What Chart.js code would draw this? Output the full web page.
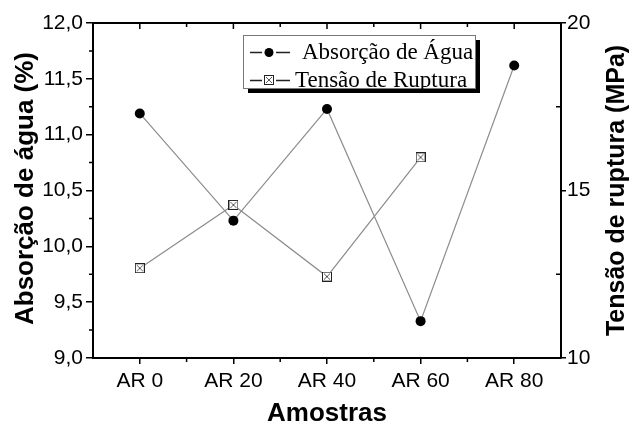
<!DOCTYPE html>
<html>
<head>
<meta charset="utf-8">
<script src="https://cdn.jsdelivr.net/npm/chart.js@4.4.0/dist/chart.umd.min.js"></script>
<style>
  html, body { margin: 0; padding: 0; background: #fff; }
  #wrap { width: 633px; height: 429px; }
</style>
</head>
<body>
<div id="wrap"><canvas id="mycanvas" width="633" height="429"></canvas></div>
<script>
var amostras = ['AR 0', 'AR 20', 'AR 40', 'AR 60', 'AR 80'];
var absorcao = [11.19, 10.23, 11.23, 9.33, 11.62];
var tensao = [12.68, 14.57, 12.43, 15.99, null];
var ticksAbsorcao = [9.0, 9.5, 10.0, 10.5, 11.0, 11.5, 12.0];
var ticksTensao = [10, 15, 20];

var sans = '"Liberation Sans", Arial, sans-serif';
var serif = '"Liberation Serif", "Times New Roman", serif';

// little square with a cross, like the Origin marker
function squareX(size) {
	var c = document.createElement('canvas');
	c.width = size; c.height = size;
	var g = c.getContext('2d');
	g.fillStyle = '#fff';
	g.fillRect(0.5, 0.5, size - 1, size - 1);
	g.strokeStyle = '#222';
	g.lineWidth = 1;
	g.strokeRect(0.5, 0.5, size - 1, size - 1);
	g.strokeStyle = '#555';
	g.beginPath();
	g.moveTo(2, 2); g.lineTo(size - 2, size - 2);
	g.moveTo(size - 2, 2); g.lineTo(2, size - 2);
	g.stroke();
	return c;
}
var sq = squareX(10);

var extras = {
	id: 'extras',
	afterDraw: function(chart) {
		var ctx = chart.ctx;
		var a = chart.chartArea;
		var x = chart.scales.x, y = chart.scales.y, y1 = chart.scales.y1;
		ctx.save();
		ctx.strokeStyle = '#000';
		ctx.lineWidth = 2;
		// top frame line
		ctx.beginPath();
		ctx.moveTo(a.left - 1, a.top);
		ctx.lineTo(a.right + 1, a.top);
		ctx.stroke();

		ctx.lineWidth = 1.5;
		ctx.beginPath();
		// left minor ticks
		for (var i = 0; i < ticksAbsorcao.length - 1; i++) {
			var v = (ticksAbsorcao[i] + ticksAbsorcao[i + 1]) / 2;
			var py = y.getPixelForValue(v);
			ctx.moveTo(a.left, py); ctx.lineTo(a.left - 4, py);
		}
		// right minor ticks (inside)
		for (var j = 0; j < ticksTensao.length - 1; j++) {
			var v2 = (ticksTensao[j] + ticksTensao[j + 1]) / 2;
			var py2 = y1.getPixelForValue(v2);
			ctx.moveTo(a.right, py2); ctx.lineTo(a.right - 5, py2);
		}
		// bottom minor + top ticks
		var step = x.getPixelForValue(1) - x.getPixelForValue(0);
		for (var k = 0; k < amostras.length; k++) {
			var px = x.getPixelForValue(k);
			var b = px + step / 2;
			if (k < amostras.length - 1) {
				ctx.moveTo(b, a.bottom); ctx.lineTo(b, a.bottom + 4);
				ctx.moveTo(b, a.top); ctx.lineTo(b, a.top + 4);
			}
			ctx.moveTo(px, a.top); ctx.lineTo(px, a.top + 6);
		}
		ctx.stroke();

		// axis titles
		ctx.fillStyle = '#000';
		ctx.font = 'bold 26px ' + sans;
		ctx.textAlign = 'center';
		ctx.textBaseline = 'middle';
		ctx.fillText('Amostras', (a.left + a.right) / 2, 414);
		ctx.save();
		ctx.translate(26, (a.top + a.bottom) / 2 - 2);
		ctx.rotate(-Math.PI / 2);
		ctx.fillText('Absorção de água (%)', 0, 0);
		ctx.restore();
		ctx.save();
		ctx.translate(617, (a.top + a.bottom) / 2);
		ctx.rotate(-Math.PI / 2);
		ctx.font = 'bold 25px ' + sans;
		ctx.fillText('Tensão de ruptura (MPa)', 0, 0);
		ctx.restore();

		// legend box with shadow
		var lx = 243, ly = 35, lw = 232, lh = 53;
		ctx.fillStyle = '#000';
		ctx.fillRect(lx + 5, ly + 5, lw, lh);
		ctx.fillStyle = '#fff';
		ctx.fillRect(lx, ly, lw, lh);
		ctx.strokeStyle = '#777';
		ctx.lineWidth = 1;
		ctx.strokeRect(lx + 0.5, ly + 0.5, lw, lh);

		ctx.strokeStyle = '#222';
		ctx.lineWidth = 1.3;
		ctx.beginPath();
		ctx.moveTo(250, 52.5); ctx.lineTo(262, 52.5);
		ctx.moveTo(276, 52.5); ctx.lineTo(290, 52.5);
		ctx.moveTo(250, 80.5); ctx.lineTo(262, 80.5);
		ctx.moveTo(276, 80.5); ctx.lineTo(290, 80.5);
		ctx.stroke();
		ctx.fillStyle = '#000';
		ctx.beginPath();
		ctx.arc(269, 52.5, 4.5, 0, Math.PI * 2);
		ctx.fill();
		ctx.drawImage(sq, 264, 75);

		ctx.font = '23px ' + serif;
		ctx.textAlign = 'left';
		ctx.textBaseline = 'alphabetic';
		ctx.fillText('Absorção de Água', 302, 59);
		ctx.fillText('Tensão de Ruptura', 295, 87);
		ctx.restore();
	}
};

var ctx = document.getElementById('mycanvas');

var chart = new Chart(ctx, {
	type: 'line',
	data: {
		labels: amostras,
		datasets: [
			{
				label: 'Absorção de Água',
				data: absorcao,
				yAxisID: 'y',
				borderColor: '#8c8c8c',
				borderWidth: 1.2,
				pointStyle: 'circle',
				pointRadius: 5,
				pointBackgroundColor: '#000',
				pointBorderColor: '#000',
				pointBorderWidth: 0,
				tension: 0
			},
			{
				label: 'Tensão de Ruptura',
				data: tensao,
				yAxisID: 'y1',
				borderColor: '#8c8c8c',
				borderWidth: 1.2,
				pointStyle: sq,
				tension: 0
			}
		]
	},
	options: {
		responsive: false,
		animation: false,
		layout: { padding: { top: 23, left: 0, right: 0, bottom: 0 } },
		plugins: {
			legend: { display: false },
			tooltip: { enabled: false }
		},
		scales: {
			x: {
				type: 'category',
				offset: true,
				afterFit: function(s) { s.height = 71; },
				grid: { drawOnChartArea: false, drawTicks: true, tickLength: 6, color: '#000', lineWidth: 1.5 },
				border: { display: true, color: '#000', width: 2 },
				ticks: { color: '#000', font: { family: sans, size: 21 }, padding: 5, maxRotation: 0, autoSkip: false }
			},
			y: {
				position: 'left',
				min: 9,
				max: 12,
				afterFit: function(s) { s.width = 93; },
				afterBuildTicks: function(s) { s.ticks = ticksAbsorcao.map(function(v) { return { value: v }; }); },
				grid: { drawOnChartArea: false, drawTicks: true, tickLength: 7, color: '#000', lineWidth: 1.5 },
				border: { display: true, color: '#000', width: 2 },
				ticks: {
					color: '#000',
					font: { family: sans, size: 21 },
					padding: 3,
					callback: function(v) { return v.toFixed(1).replace('.', ','); }
				}
			},
			y1: {
				position: 'right',
				min: 10,
				max: 20,
				afterFit: function(s) { s.width = 72; },
				afterBuildTicks: function(s) { s.ticks = ticksTensao.map(function(v) { return { value: v }; }); },
				grid: { drawOnChartArea: false, drawTicks: true, tickLength: 5, color: '#000', lineWidth: 1.5 },
				border: { display: true, color: '#000', width: 2 },
				ticks: { color: '#000', font: { family: sans, size: 21 }, padding: 1 }
			}
		}
	},
	plugins: [extras]
});
</script>
</body>
</html>
